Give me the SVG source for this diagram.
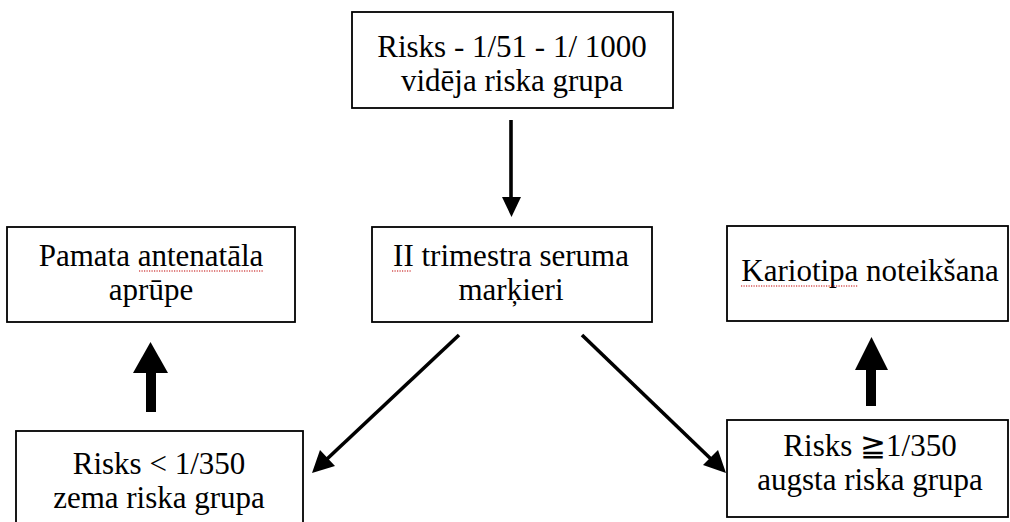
<svg xmlns="http://www.w3.org/2000/svg" width="1010" height="522" viewBox="0 0 1010 522">
<style>
.box{fill:#fff;stroke:#000;stroke-width:1.8}
.sq{stroke:#c00000;stroke-width:1.2;stroke-dasharray:1.2 1.3;fill:none}
.ln{stroke:#000;stroke-width:3.6;fill:none}
.hd{fill:#000}
</style>
<rect width="1010" height="522" fill="#fff"/>
<g font-family="Liberation Serif, DejaVu Serif, serif" font-size="31" text-anchor="middle" fill="#000">
<g id="n-top">
<rect class="box" x="352" y="12" width="321" height="96"/>
<text x="512" y="57">Risks - 1/51 - 1/ 1000</text>
<text x="512" y="91">vidēja riska grupa</text>
</g>
<g id="n-left">
<rect class="box" x="7" y="227" width="288" height="95"/>
<text x="151" y="266">Pamata antenatāla</text>
<text x="151" y="300">aprūpe</text>
<line class="sq" x1="139" y1="271" x2="264" y2="271"/>
</g>
<g id="n-mid">
<rect class="box" x="372" y="227" width="280" height="95"/>
<text x="511" y="266">II trimestra seruma</text>
<text x="511" y="300">marķieri</text>
<line class="sq" x1="392" y1="271" x2="411" y2="271"/>
</g>
<g id="n-right">
<rect class="box" x="727" y="226" width="281" height="95"/>
<text x="870" y="281">Kariotipa noteikšana</text>
<line class="sq" x1="741" y1="286" x2="858" y2="286"/>
</g>
<g id="n-bl">
<rect class="box" x="16" y="431" width="287" height="100"/>
<text x="159" y="474">Risks &lt; 1/350</text>
<text x="159" y="508">zema riska grupa</text>
</g>
<g id="n-br">
<rect class="box" x="727" y="420" width="281" height="97"/>
<text x="870" y="456">Risks ≧1/350</text>
<text x="870" y="490">augsta riska grupa</text>
</g>
</g>
<g id="connectors">
<line class="ln" x1="511" y1="120" x2="511" y2="199"/>
<polygon class="hd" points="502,197 521,197 511.5,217"/>
<line class="ln" x1="459" y1="335" x2="327" y2="459"/>
<polygon class="hd" points="312,473 320,450 335,466"/>
<line class="ln" x1="582" y1="335" x2="712" y2="460"/>
<polygon class="hd" points="726,473 703,465 718,450"/>
<rect class="hd" x="146" y="371" width="10" height="41"/>
<polygon class="hd" points="133,373 168,373 150.5,342"/>
<rect class="hd" x="866" y="368" width="10" height="38"/>
<polygon class="hd" points="855,370 888,370 871.5,337"/>
</g>
</svg>
